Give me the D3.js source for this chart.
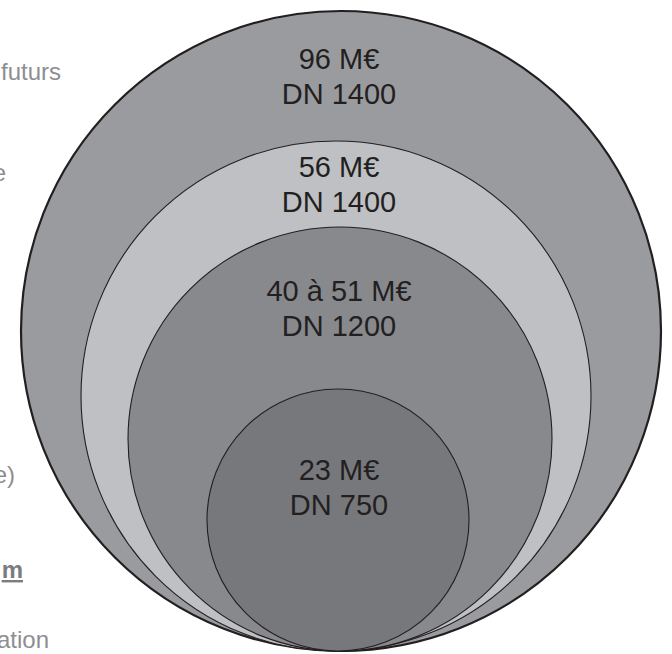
<!DOCTYPE html>
<html>
<head>
<meta charset="utf-8">
<script src="https://cdn.jsdelivr.net/npm/d3@7"></script>
<style>
  body { margin: 0; background: #fff; }
  svg { display: block; }
  text { font-family: "Liberation Sans", Arial, Helvetica, sans-serif; }
</style>
</head>
<body>
<svg id="chart" width="672" height="654"></svg>
<script>
// costs (M€) and pipe diameters, outer to inner
const costLow = [96, 56, 40, 23]
const costHigh = [96, 56, 51, 23]
const diameters = [1400, 1400, 1200, 750]
const fills = ['#9a9b9f', '#bfc0c3', '#88898d', '#77787c']

// fragments of the side text, cut by the frame
const sideText = ['futurs', 'e', 'e)', 'm', 'ation']
const sideBold = [false, false, false, true, false]

const svg = d3.select('#chart')
const bottom = 651

const costMid = costLow.map((d, i) => (d + costHigh[i]) / 2)

const rScale = d3.scaleLinear()
  .domain([23, 45.5, 56, 96])
  .range([131, 212, 255, 320])

const xScale = d3.scaleOrdinal()
  .domain(d3.range(4))
  .range([341, 336, 340, 338])

const circles = costMid.map((d, i) => {
  const r = rScale(d)
  return { i: i, r: r, cx: xScale(i), cy: bottom - r, top: bottom - 2 * r }
})

svg.append('g')
  .selectAll('circle')
  .data(circles)
  .enter()
  .append('circle')
  .attr('cx', d => d.cx)
  .attr('cy', d => d.cy)
  .attr('r', d => d.r)
  .attr('fill', d => fills[d.i])
  .attr('stroke', '#231f20')
  .attr('stroke-width', d => d.i === 0 ? 2.2 : 1.1)

function label(i) {
  const lo = costLow[i], hi = costHigh[i]
  return (lo === hi ? lo : lo + ' à ' + hi) + ' M€'
}

const labels = svg.append('g')
  .selectAll('text')
  .data(circles)
  .enter()
  .append('text')
  .attr('text-anchor', 'middle')
  .attr('font-size', 29)
  .attr('fill', '#231f20')
  .attr('transform', d => {
    const next = circles[d.i + 1]
    const mid = next ? (d.top + next.top) / 2 : d.top + d.r * 0.75
    return `translate(339, ${mid - 7})`
  })

labels.append('tspan')
  .attr('x', 0)
  .attr('y', 0)
  .text(d => label(d.i))

labels.append('tspan')
  .attr('x', 0)
  .attr('y', 35)
  .text(d => 'DN ' + diameters[d.i])

// side column (clipped by the left edge, as in the original)
const sideYs = [80, 181, 483, 578, 648]
const sideX = [61, 6, 15, 23, 49]

svg.append('g')
  .selectAll('text')
  .data(sideText)
  .enter()
  .append('text')
  .attr('x', (d, i) => sideX[i])
  .attr('y', (d, i) => sideYs[i])
  .attr('text-anchor', 'end')
  .attr('font-size', 24)
  .attr('font-weight', (d, i) => sideBold[i] ? 'bold' : 'normal')
  .attr('text-decoration', (d, i) => sideBold[i] ? 'underline' : 'none')
  .attr('fill', (d, i) => sideBold[i] ? '#7b7c80' : '#8d8e91')
  .text(d => d)
</script>
</body>
</html>
